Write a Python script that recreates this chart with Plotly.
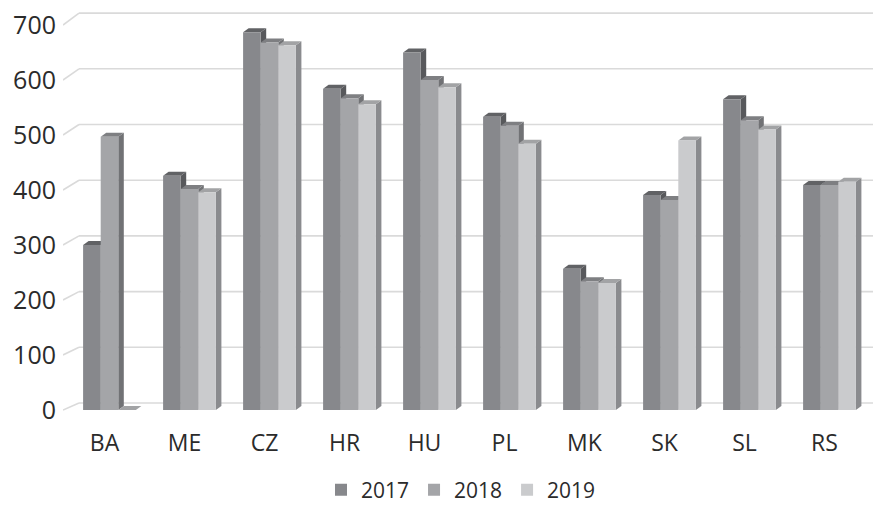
import plotly.graph_objects as go

categories = ["BA", "ME", "CZ", "HR", "HU", "PL", "MK", "SK", "SL", "RS"]
years = ["2017", "2018", "2019"]
v2017 = [300, 426, 687, 584, 650, 533, 257, 391, 565, 409]
v2018 = [497, 402, 668, 567, 600, 517, 234, 382, 527, 409]
v2019 = [0, 396, 663, 556, 587, 484, 231, 490, 510, 415]
y_ticks = [0, 100, 200, 300, 400, 500, 600, 700]

series = [v2017, v2018, v2019]
front_colors = ["#87888c", "#a4a5a8", "#cacbcd"]
top_colors = ["#616265", "#7e7f82", "#a2a3a5"]
side_colors = ["#58595c", "#717275", "#8a8b8e"]

# layout geometry (pixels)
W, H = 873, 506
ML, MR, MT, MB = 63, 0, 5, 81
PX_PER_UNIT = 0.55
ZERO_PX = 410
CAT0_PX = 109.5
CAT_STEP = 80
plot_h = H - MT - MB
y_range = [-(H - MB - ZERO_PX) / PX_PER_UNIT, (ZERO_PX - MT) / PX_PER_UNIT]
x_range = [(ML - CAT0_PX) / CAT_STEP, (W - MR - CAT0_PX) / CAT_STEP]

BARGAP = 0.34
bw = (1 - BARGAP) / 3
DX = 5.5 / CAT_STEP
DY = 4.0 / PX_PER_UNIT


def back_y(v):
    # back-wall gridline position expressed in front-axis units
    return (ZERO_PX - (403 - v * 0.557)) / PX_PER_UNIT


back_x = (79 - CAT0_PX) / CAT_STEP

shapes = []
for v in y_ticks:
    shapes.append(dict(type="line", xref="x", yref="y", layer="below",
                       x0=back_x, x1=x_range[1], y0=back_y(v), y1=back_y(v),
                       line=dict(color="#dadada", width=1.6)))
    shapes.append(dict(type="line", xref="x", yref="y", layer="below",
                       x0=x_range[0], x1=back_x, y0=v, y1=back_y(v),
                       line=dict(color="#dadada", width=1.6)))

for k, vals in enumerate(series):
    for i, v in enumerate(vals):
        xl = i - (1 - BARGAP) / 2 + k * bw
        xr = xl + bw
        if v > 0:
            shapes.append(dict(
                type="path", xref="x", yref="y", layer="below",
                path=f"M{xr},0 L{xr},{v} L{xr+DX},{v+DY} L{xr+DX},{DY} Z",
                fillcolor=side_colors[k], line=dict(width=0)))
        shapes.append(dict(
            type="path", xref="x", yref="y", layer="below",
            path=f"M{xl},{v} L{xr},{v} L{xr+DX},{v+DY} L{xl+DX},{v+DY} Z",
            fillcolor=top_colors[k], line=dict(width=0)))

fig = go.Figure()
for k, vals in enumerate(series):
    fig.add_trace(go.Bar(
        x=list(range(len(categories))), y=vals, name=years[k],
        marker=dict(color=front_colors[k], line=dict(width=0)),
    ))

font_family = "Open Sans, Noto Sans, sans-serif"
fig.update_layout(
    width=W, height=H,
    margin=dict(l=ML, r=MR, t=MT, b=MB, pad=0, autoexpand=False),
    paper_bgcolor="white", plot_bgcolor="white",
    barmode="group", bargap=BARGAP, bargroupgap=0,
    font=dict(family=font_family, size=22, color="#2b2b2b"),
    shapes=shapes,
    showlegend=True,
    legend=dict(orientation="h", xref="paper", yref="paper",
                x=(461 - ML) / (W - ML - MR), y=-(490 - (H - MB)) / plot_h,
                xanchor="center", yanchor="middle",
                font=dict(size=21, color="#2b2b2b"), itemwidth=30,
                tracegroupgap=0, traceorder="normal"),
    xaxis=dict(range=x_range, tickmode="array",
               tickvals=list(range(len(categories))), ticktext=categories,
               showgrid=False, zeroline=False, showline=False, ticks="",
               ticklabelstandoff=2, ticklabelshift=-5,
               tickfont=dict(size=23)),
    yaxis=dict(range=y_range, tickmode="array", tickvals=y_ticks,
               showgrid=False, zeroline=False, showline=False, ticks="",
               ticklabelstandoff=6, tickfont=dict(size=25)),
)

fig.write_html("out.html")
